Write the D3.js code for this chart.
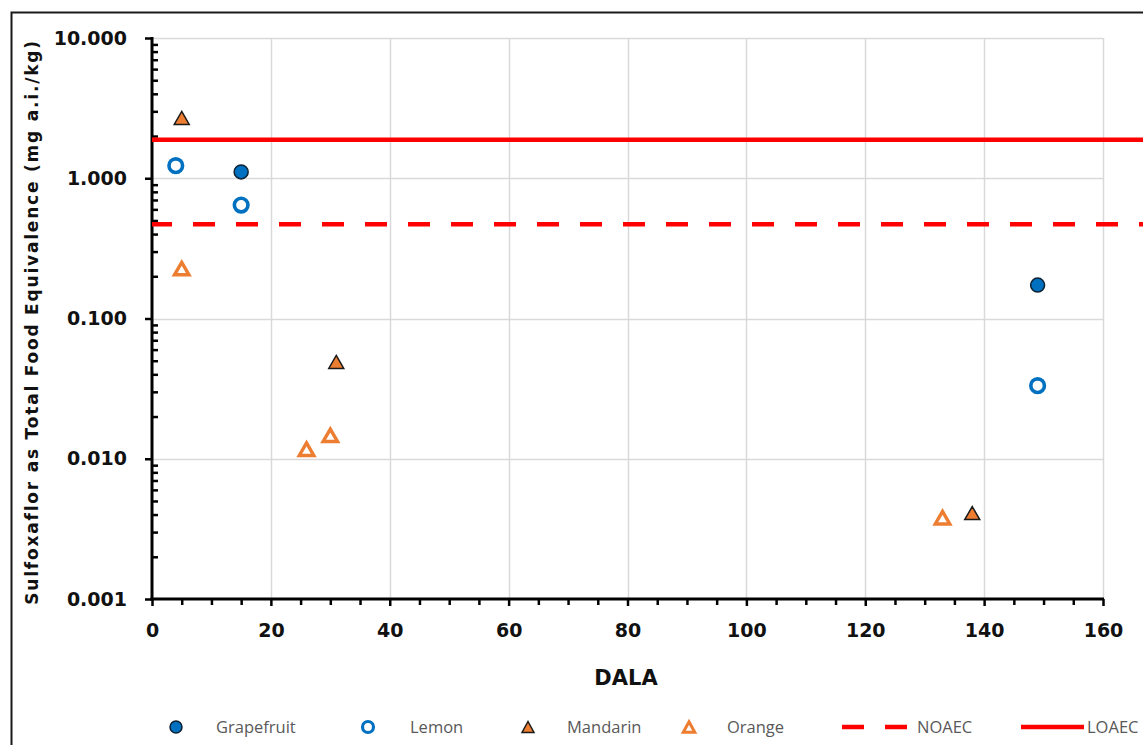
<!DOCTYPE html>
<html>
<head>
<meta charset="utf-8">
<script src="https://cdn.jsdelivr.net/npm/d3@7"></script>
<style>
  html, body { margin: 0; padding: 0; background: #fff; }
  svg { display: block; }
</style>
</head>
<body>
<svg id="chart" width="1143" height="745"></svg>
<script>
// Residue data: days after last application (DALA) vs concentration (mg a.i./kg)
const grapefruitX = [15, 149];
const grapefruitY = [1.11, 0.173];
const lemonX = [4, 15, 149];
const lemonY = [1.23, 0.644, 0.0332];
const mandarinX = [5, 31, 138];
const mandarinY = [2.69, 0.049, 0.0041];
const orangeX = [5, 26, 30, 133];
const orangeY = [0.227, 0.0117, 0.0147, 0.0038];
const noaec = 0.47;
const loaec = 1.88;

const xTicks = [0, 20, 40, 60, 80, 100, 120, 140, 160];
const xMinorTicks = d3.range(0, 161, 5);
const yTicks = [0.001, 0.01, 0.1, 1, 10];
const legendLabels = ["Grapefruit", "Lemon", "Mandarin", "Orange", "NOAEC", "LOAEC"];

const blue = "#0070C0";
const orange = "#ED7D31";
const red = "#FF0000";

const svg = d3.select("#chart");

const x = d3.scaleLinear().domain([0, 160]).range([152, 1103]);
const y = d3.scaleLog().domain([0.001, 10]).range([599, 38]);

// chart frame
svg.append("rect")
  .attr("x", 11.5).attr("y", 12.5)
  .attr("width", 1160).attr("height", 760)
  .attr("fill", "#fff").attr("stroke", "#1a1a1a").attr("stroke-width", 2);

// gridlines
const grid = svg.append("g");
grid.selectAll(".gx").data(xTicks.slice(1)).join("line")
  .attr("x1", d => Math.round(x(d)) + 0.5).attr("x2", d => Math.round(x(d)) + 0.5)
  .attr("y1", y(10)).attr("y2", y(0.001))
  .attr("stroke", "#D9D9D9").attr("stroke-width", 1.5);
grid.selectAll(".gy").data(yTicks.slice(1)).join("line")
  .attr("x1", x(0)).attr("x2", x(160))
  .attr("y1", d => Math.round(y(d)) + 0.5).attr("y2", d => Math.round(y(d)) + 0.5)
  .attr("stroke", "#D9D9D9").attr("stroke-width", 1.5);

// y axis: major ticks outside with labels, minor ticks inside
const yMinor = [];
for (let e = -3; e < 1; e++) {
  for (let m = 2; m <= 9; m++) yMinor.push(m * Math.pow(10, e));
}
const yAxis = svg.append("g").attr("transform", `translate(${x(0)},0)`)
  .call(d3.axisLeft(y).tickValues(yTicks).tickFormat(d3.format(".3f")).tickSize(7).tickPadding(18));
yAxis.select(".domain").remove();
yAxis.selectAll(".tick line").attr("stroke", "#000").attr("stroke-width", 2.5);
yAxis.selectAll(".tick text")
  .attr("font-family", "DejaVu Sans").attr("font-weight", "bold")
  .attr("font-size", 19).attr("fill", "#111");

const yMinorAxis = svg.append("g").attr("transform", `translate(${x(0)},0)`)
  .call(d3.axisRight(y).tickValues(yMinor).tickFormat("").tickSize(6));
yMinorAxis.select(".domain").remove();
yMinorAxis.selectAll(".tick line").attr("stroke", "#000").attr("stroke-width", 2.5);

// x axis
const xAxis = svg.append("g").attr("transform", `translate(0,${y(0.001)})`)
  .call(d3.axisBottom(x).tickValues(xTicks).tickFormat(d3.format("d")).tickSize(7).tickPadding(18));
xAxis.select(".domain").remove();
xAxis.selectAll(".tick line").attr("stroke", "#000").attr("stroke-width", 2.5);
xAxis.selectAll(".tick text")
  .attr("font-family", "DejaVu Sans").attr("font-weight", "bold")
  .attr("font-size", 19).attr("fill", "#111");

const xMinorAxis = svg.append("g").attr("transform", `translate(0,${y(0.001)})`)
  .call(d3.axisBottom(x).tickValues(xMinorTicks.filter(d => d % 20 !== 0)).tickFormat("").tickSize(6));
xMinorAxis.select(".domain").remove();
xMinorAxis.selectAll(".tick line").attr("stroke", "#000").attr("stroke-width", 2.5);

// axis lines
svg.append("line").attr("x1", x(0)).attr("x2", x(0)).attr("y1", y(10) - 1).attr("y2", y(0.001) + 1.5)
  .attr("stroke", "#000").attr("stroke-width", 3);
svg.append("line").attr("x1", x(0) - 1.5).attr("x2", x(160) + 1).attr("y1", y(0.001)).attr("y2", y(0.001))
  .attr("stroke", "#000").attr("stroke-width", 3);

// threshold lines
svg.append("line")
  .attr("x1", x(0)).attr("x2", x(160) + 40)
  .attr("y1", y(noaec)).attr("y2", y(noaec))
  .attr("stroke", red).attr("stroke-width", 4.5)
  .attr("stroke-dasharray", "22,21").attr("stroke-dashoffset", 2);
svg.append("line")
  .attr("x1", x(0)).attr("x2", x(160) + 40)
  .attr("y1", y(loaec)).attr("y2", y(loaec))
  .attr("stroke", red).attr("stroke-width", 4.5);

// marker shapes
function tri(cx, cy, w, h) {
  const p = d3.path();
  p.moveTo(cx, cy - h / 2);
  p.lineTo(cx + w / 2, cy + h / 2);
  p.lineTo(cx - w / 2, cy + h / 2);
  p.closePath();
  return p.toString();
}

const pts = (xs, ys) => xs.map((d, i) => ({ x: d, y: ys[i] }));

svg.append("g").selectAll("circle").data(pts(grapefruitX, grapefruitY)).join("circle")
  .attr("cx", d => x(d.x)).attr("cy", d => y(d.y)).attr("r", 7)
  .attr("fill", blue).attr("stroke", "#0d2233").attr("stroke-width", 1.5);

svg.append("g").selectAll("circle").data(pts(lemonX, lemonY)).join("circle")
  .attr("cx", d => x(d.x)).attr("cy", d => y(d.y)).attr("r", 6.8)
  .attr("fill", "none").attr("stroke", blue).attr("stroke-width", 3.6);

svg.append("g").selectAll("path").data(pts(mandarinX, mandarinY)).join("path")
  .attr("d", d => tri(x(d.x), y(d.y), 15, 13))
  .attr("fill", orange).attr("stroke", "#1a1a1a").attr("stroke-width", 1.5)
  .attr("stroke-linejoin", "miter");

svg.append("g").selectAll("path").data(pts(orangeX, orangeY)).join("path")
  .attr("d", d => tri(x(d.x), y(d.y), 14.5, 12.5))
  .attr("fill", "none").attr("stroke", orange).attr("stroke-width", 3.4)
  .attr("stroke-linejoin", "miter");

// axis titles
svg.append("text")
  .attr("x", 626).attr("y", 685)
  .attr("text-anchor", "middle")
  .attr("font-family", "DejaVu Sans").attr("font-weight", "bold")
  .attr("font-size", 21).attr("fill", "#111")
  .text("DALA");

svg.append("text")
  .attr("transform", "translate(38,322) rotate(-90)")
  .attr("text-anchor", "middle")
  .attr("font-family", "DejaVu Sans").attr("font-weight", "bold")
  .attr("font-size", 17).attr("letter-spacing", 1.8).attr("fill", "#111")
  .text("Sulfoxaflor as Total Food Equivalence  (mg a.i./kg)");

// legend
const legY = 727;
const leg = svg.append("g");
const legText = [216, 410, 567, 727, 917, 1087];
leg.append("circle").attr("cx", 176).attr("cy", legY).attr("r", 6)
  .attr("fill", blue).attr("stroke", "#0d2233").attr("stroke-width", 1.5);
leg.append("circle").attr("cx", 368).attr("cy", legY).attr("r", 5.5)
  .attr("fill", "none").attr("stroke", blue).attr("stroke-width", 3.2);
leg.append("path").attr("d", tri(528, legY, 12, 11))
  .attr("fill", orange).attr("stroke", "#1a1a1a").attr("stroke-width", 1.5);
leg.append("path").attr("d", tri(689, legY, 11.5, 10.5))
  .attr("fill", "none").attr("stroke", orange).attr("stroke-width", 3);
leg.append("line").attr("x1", 842).attr("x2", 907).attr("y1", legY).attr("y2", legY)
  .attr("stroke", red).attr("stroke-width", 4.5).attr("stroke-dasharray", "22,21");
leg.append("line").attr("x1", 1021).attr("x2", 1084).attr("y1", legY).attr("y2", legY)
  .attr("stroke", red).attr("stroke-width", 4.5);
leg.selectAll("text").data(legendLabels).join("text")
  .attr("x", (d, i) => legText[i]).attr("y", legY + 6)
  .attr("font-family", "Open Sans").attr("font-size", 16.5).attr("fill", "#595959")
  .text(d => d);
</script>
</body>
</html>
